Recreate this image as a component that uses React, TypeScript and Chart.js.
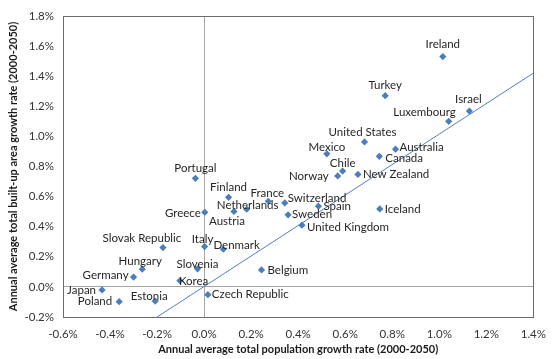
import React, { useEffect, useRef } from "react";
import { Chart, registerables } from "chart.js";

Chart.register(...registerables);

const countries = [
  "Ireland", "Turkey", "Israel", "Luxembourg", "United States", "Mexico", "Australia", "Canada",
  "Chile", "Norway", "New Zealand", "Switzerland", "Spain", "Iceland", "Sweden", "United Kingdom",
  "Portugal", "Finland", "France", "Netherlands", "Austria", "Greece", "Slovak Republic", "Italy",
  "Denmark", "Hungary", "Slovenia", "Belgium", "Germany", "Korea", "Japan", "Poland", "Estonia",
  "Czech Republic",
];

// Annual average total population growth rate (2000-2050), %
const popGrowth = [
  1.015, 0.77, 1.128, 1.04, 0.682, 0.522, 0.814, 0.745,
  0.589, 0.568, 0.654, 0.343, 0.486, 0.747, 0.357, 0.416,
  -0.037, 0.104, 0.273, 0.181, 0.127, 0.003, -0.175, 0.002,
  0.082, -0.263, -0.028, 0.244, -0.3, -0.103, -0.434, -0.361, -0.208,
  0.016,
];

// Annual average total built-up area growth rate (2000-2050), %
const builtUpGrowth = [
  1.53, 1.27, 1.168, 1.1, 0.963, 0.884, 0.915, 0.867,
  0.769, 0.737, 0.747, 0.558, 0.536, 0.518, 0.479, 0.41,
  0.721, 0.595, 0.569, 0.516, 0.501, 0.495, 0.261, 0.268,
  0.25, 0.118, 0.12, 0.113, 0.065, 0.041, -0.02, -0.098, -0.094,
  -0.052,
];

// Trend line end points
const trendX = [-0.2, 1.4];
const trendY = [-0.2, 1.42];

const xTicks = [-0.6, 1.4, 0.2]; // min, max, step
const yTicks = [-0.2, 1.8, 0.2];

// label placement: [align, dx, dy]
const labelPlacement: Record<string, [CanvasTextAlign, number, number]> = {
  Ireland: ["center", 0, -12],
  Turkey: ["center", 0, -10],
  Israel: ["center", -1, -12],
  Luxembourg: ["right", 7, -9],
  "United States": ["center", -2, -10],
  Mexico: ["center", 0, -7],
  Australia: ["left", 4, -2],
  Canada: ["left", 6, 2],
  Chile: ["center", 0, -8],
  Norway: ["right", -9, 0],
  "New Zealand": ["left", 5, 0],
  Switzerland: ["left", 3, -5],
  Spain: ["left", 5, 0],
  Iceland: ["left", 5, 0],
  Sweden: ["left", 4, 0],
  "United Kingdom": ["left", 5, 2],
  Portugal: ["center", 0, -10],
  Finland: ["center", 0, -10],
  France: ["center", -1, -8],
  Netherlands: ["center", 1, -4],
  Austria: ["center", -7, 10],
  Greece: ["right", -4, 1],
  "Slovak Republic": ["center", -21, -9],
  Italy: ["center", -2, -7],
  Denmark: ["left", -10, -4],
  Hungary: ["center", -2, -8],
  Slovenia: ["center", 0, -5],
  Belgium: ["left", 6, 0],
  Germany: ["right", -5, -2],
  Korea: ["left", -1, 1],
  Japan: ["right", -6, 0],
  Poland: ["right", -7, 0],
  Estonia: ["center", -6, -5],
  "Czech Republic": ["left", 4, 0],
};

const FONT = "Lato, 'Open Sans', sans-serif";

const labelsPlugin = {
  id: "pointLabels",
  afterDatasetsDraw(chart: any) {
    const meta = chart.getDatasetMeta(1);
    const ctx = chart.ctx;
    ctx.save();
    ctx.font = `11.5px ${FONT}`;
    ctx.fillStyle = "#262626";
    ctx.textBaseline = "middle";
    meta.data.forEach((el: any, i: number) => {
      const name = countries[i];
      const p = labelPlacement[name] || ["left", 5, 0];
      ctx.textAlign = p[0];
      ctx.fillText(name, el.x + p[1], el.y + p[2]);
    });
    ctx.restore();
  },
};

const framePlugin = {
  id: "frame",
  afterDraw(chart: any) {
    const { left, top, right, bottom } = chart.chartArea;
    const ctx = chart.ctx;
    ctx.save();
    ctx.strokeStyle = "#6b6b6b";
    ctx.lineWidth = 1;
    ctx.strokeRect(Math.round(left) + 0.5, Math.round(top) + 0.5, Math.round(right - left), Math.round(bottom - top));
    ctx.restore();
  },
};

export default function App() {
  const ref = useRef<HTMLCanvasElement>(null);
  useEffect(() => {
    document.body.style.margin = "0";
    const points = popGrowth.map((x, i) => ({ x, y: builtUpGrowth[i] }));
    const trend = trendX.map((x, i) => ({ x, y: trendY[i] }));
    const zeroGrid = (c: any) => (Math.abs(c.tick.value) < 1e-9 ? "#a6a6a6" : "rgba(0,0,0,0)");
    const chart = new Chart(ref.current!, {
      type: "scatter",
      data: {
        datasets: [
          {
            type: "line",
            data: trend,
            borderColor: "#4f81bd",
            borderWidth: 1,
            pointRadius: 0,
            showLine: true,
            fill: false,
          } as any,
          {
            data: points,
            pointStyle: "rectRot",
            pointRadius: 3.6,
            backgroundColor: "#4a7ebb",
            borderColor: "#4a7ebb",
            borderWidth: 0,
          },
        ],
      },
      options: {
        animation: false,
        responsive: false,
        layout: { padding: { top: 11, right: 22, left: 0, bottom: 0 } },
        plugins: { legend: { display: false }, tooltip: { enabled: false } },
        scales: {
          x: {
            type: "linear",
            min: xTicks[0],
            max: xTicks[1],
            ticks: {
              stepSize: xTicks[2],
              padding: 10,
              color: "#333",
              font: { family: FONT, size: 11.5 },
              callback: (v: any) => Number(v).toFixed(1) + "%",
            },
            grid: { color: zeroGrid, drawTicks: false, lineWidth: 1 },
            border: { display: false },
            title: {
              display: true,
              text: "Annual average total population growth rate (2000-2050)",
              color: "#1a1a1a",
              font: { family: FONT, size: 11, weight: "bold" },
              padding: { top: 0, bottom: 3 },
            },
            afterFit: (s: any) => {
              s.height = 42;
            },
          },
          y: {
            type: "linear",
            min: yTicks[0],
            max: yTicks[1],
            ticks: {
              stepSize: yTicks[2],
              padding: 9,
              color: "#333",
              font: { family: FONT, size: 11.5 },
              callback: (v: any) => Number(v).toFixed(1) + "%",
            },
            grid: { color: zeroGrid, drawTicks: false, lineWidth: 1 },
            border: { display: false },
            title: {
              display: true,
              text: "Annual average total built-up area growth rate (2000-2050)",
              color: "#1a1a1a",
              font: { family: FONT, size: 11, weight: "bold" },
              padding: { top: 7, bottom: 0 },
            },
            afterFit: (s: any) => {
              s.width = 63;
            },
          },
        },
      },
      plugins: [labelsPlugin, framePlugin],
    });
    return () => chart.destroy();
  }, []);
  return (
    <div style={{ width: 556, height: 359 }}>
      <canvas ref={ref} width={556} height={359} style={{ display: "block" }} />
    </div>
  );
}
